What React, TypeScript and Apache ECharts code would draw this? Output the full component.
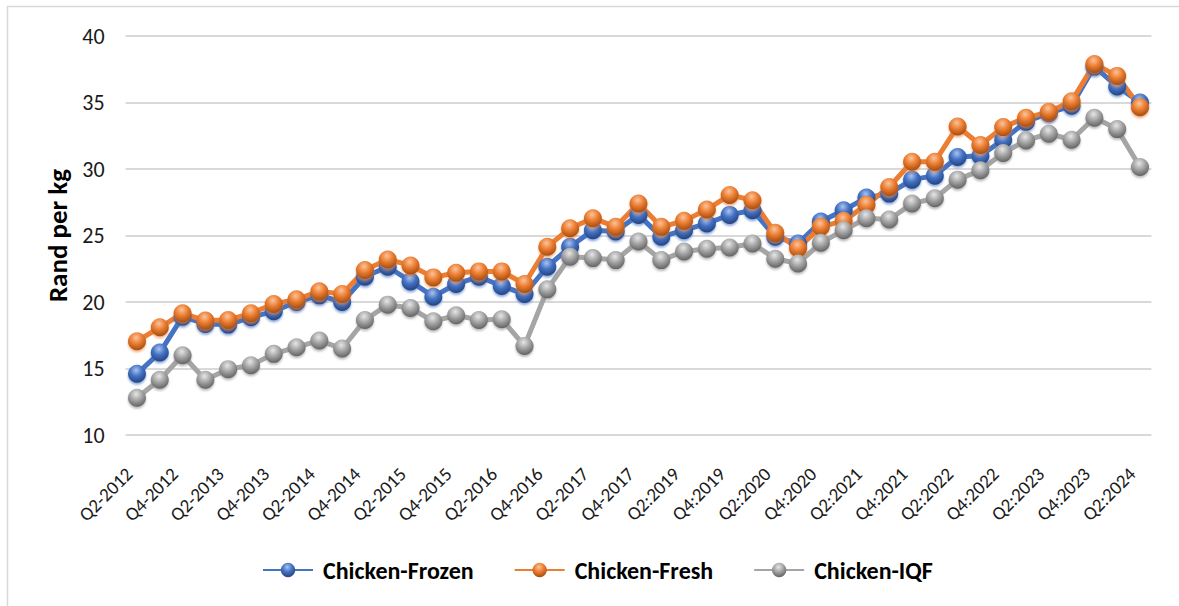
import React, { useEffect, useRef } from "react";
import * as echarts from "echarts";

const categories: string[] = [
  "Q2-2012", "Q3-2012", "Q4-2012", "Q1-2013", "Q2-2013", "Q3-2013", "Q4-2013", "Q1-2014",
  "Q2-2014", "Q3-2014", "Q4-2014", "Q1-2015", "Q2-2015", "Q3-2015", "Q4-2015", "Q1-2016",
  "Q2-2016", "Q3-2016", "Q4-2016", "Q1-2017", "Q2-2017", "Q3-2017", "Q4-2017",
  "Q1:2019", "Q2:2019", "Q3:2019", "Q4:2019", "Q1:2020", "Q2:2020", "Q3:2020", "Q4:2020",
  "Q1:2021", "Q2:2021", "Q3:2021", "Q4:2021", "Q1:2022", "Q2:2022", "Q3:2022", "Q4:2022",
  "Q1:2023", "Q2:2023", "Q3:2023", "Q4:2023", "Q1:2024", "Q2:2024",
];

const chickenFrozen: number[] = [
  14.6, 16.2, 18.9, 18.35, 18.3, 18.85, 19.3, 20.0, 20.5, 20.0, 21.9, 22.65, 21.55, 20.4, 21.35,
  21.9, 21.2, 20.6, 22.65, 24.15, 25.4, 25.3, 26.55, 24.9, 25.4, 25.9, 26.55, 26.9, 24.9, 24.4,
  26.05, 26.9, 27.85, 28.15, 29.2, 29.5, 30.9, 31.0, 32.2, 33.55, 34.2, 34.75, 37.7, 36.2, 35.0,
];

const chickenFresh: number[] = [
  17.05, 18.1, 19.15, 18.6, 18.65, 19.15, 19.85, 20.2, 20.8, 20.6, 22.4, 23.2, 22.75, 21.85, 22.2,
  22.3, 22.3, 21.35, 24.15, 25.55, 26.3, 25.65, 27.4, 25.65, 26.1, 26.95, 28.05, 27.65, 25.2, 24.05,
  25.65, 26.1, 27.3, 28.65, 30.55, 30.55, 33.2, 31.8, 33.15, 33.85, 34.3, 35.1, 37.9, 37.0, 34.65,
];

const chickenIQF: number[] = [
  12.8, 14.15, 16.0, 14.15, 14.95, 15.25, 16.1, 16.6, 17.1, 16.5, 18.65, 19.8, 19.55, 18.55, 19.0,
  18.65, 18.7, 16.7, 20.95, 23.4, 23.3, 23.15, 24.55, 23.15, 23.8, 24.0, 24.1, 24.4, 23.25, 22.9,
  24.45, 25.4, 26.3, 26.2, 27.4, 27.8, 29.2, 29.9, 31.2, 32.15, 32.65, 32.2, 33.85, 33.0, 30.15,
];

const seriesNames: string[] = ["Chicken-Frozen", "Chicken-Fresh", "Chicken-IQF"];
const yTicks = { min: 10, max: 40, interval: 5 };

const FONT = "Carlito, 'Liberation Sans', Arial, sans-serif";

function sphere(light: string, mid: string, dark: string) {
  return new echarts.graphic.RadialGradient(0.45, 0.3, 0.75, [
    { offset: 0, color: light },
    { offset: 0.45, color: mid },
    { offset: 1, color: dark },
  ]);
}

export default function App() {
  const ref = useRef<HTMLDivElement>(null);

  useEffect(() => {
    if (!ref.current) return;
    const chart = echarts.init(ref.current, undefined, { renderer: "svg" });

    const mk = (name: string, data: number[], line: string, grad: any, shadow: string) => ({
      name,
      type: "line",
      data,
      symbol: "circle",
      symbolSize: 18,
      showAllSymbol: true,
      lineStyle: { color: line, width: 5 },
      itemStyle: {
        color: grad,
        borderWidth: 0,
        shadowColor: shadow,
        shadowBlur: 2,
        shadowOffsetY: 2,
      },
      emphasis: { disabled: true },
    });

    chart.setOption({
      animation: false,
      textStyle: { fontFamily: FONT },
      grid: { left: 125.6, right: 27.6, top: 36, bottom: 171, containLabel: false },
      xAxis: {
        type: "category",
        data: categories,
        boundaryGap: true,
        axisLine: { show: false },
        axisTick: { show: false },
        axisLabel: {
          interval: 1,
          rotate: 45,
          fontSize: 19,
          color: "#1a1a1a",
          fontFamily: FONT,
          margin: 28,
          padding: [0, 11, 0, 0],
        },
      },
      yAxis: {
        type: "value",
        min: yTicks.min,
        max: yTicks.max,
        interval: yTicks.interval,
        name: "Rand per kg",
        nameLocation: "middle",
        nameGap: 49,
        nameRotate: 90,
        nameTextStyle: { fontSize: 27, fontWeight: "bold", color: "#000", fontFamily: FONT },
        axisLine: { show: false },
        axisTick: { show: false },
        axisLabel: { fontSize: 22, color: "#1a1a1a", margin: 21, fontFamily: FONT },
        splitLine: { lineStyle: { color: "#d9d9d9", width: 2 } },
      },
      legend: {
        bottom: 19,
        left: 257,
        itemWidth: 50,
        itemHeight: 18,
        itemGap: 40,
        textStyle: {
          fontSize: 24,
          fontWeight: "bold",
          color: "#000",
          fontFamily: FONT,
          padding: [0, 0, 0, 5],
        },
        data: seriesNames,
      },
      graphic: [
        {
          type: "rect",
          shape: { x: 7.5, y: 6.5, width: 1300, height: 1000 },
          style: { fill: "none", stroke: "#d9d9d9", lineWidth: 1.5 },
          silent: true,
        },
      ],
      series: [
        mk(seriesNames[0], chickenFrozen, "#4472C4", sphere("#a9c3ee", "#4472C4", "#1f3d75"), "rgba(68,114,196,0.6)"),
        mk(seriesNames[1], chickenFresh, "#ED7D31", sphere("#f9c49c", "#ED7D31", "#98480f"), "rgba(237,125,49,0.6)"),
        mk(seriesNames[2], chickenIQF, "#A5A5A5", sphere("#e6e6e6", "#A5A5A5", "#5a5a5a"), "rgba(140,140,140,0.6)"),
      ],
    });

    return () => chart.dispose();
  }, []);

  return (
    <div
      ref={ref}
      style={{ position: "absolute", left: 0, top: 0, width: 1179, height: 606, background: "#fff" }}
    />
  );
}
